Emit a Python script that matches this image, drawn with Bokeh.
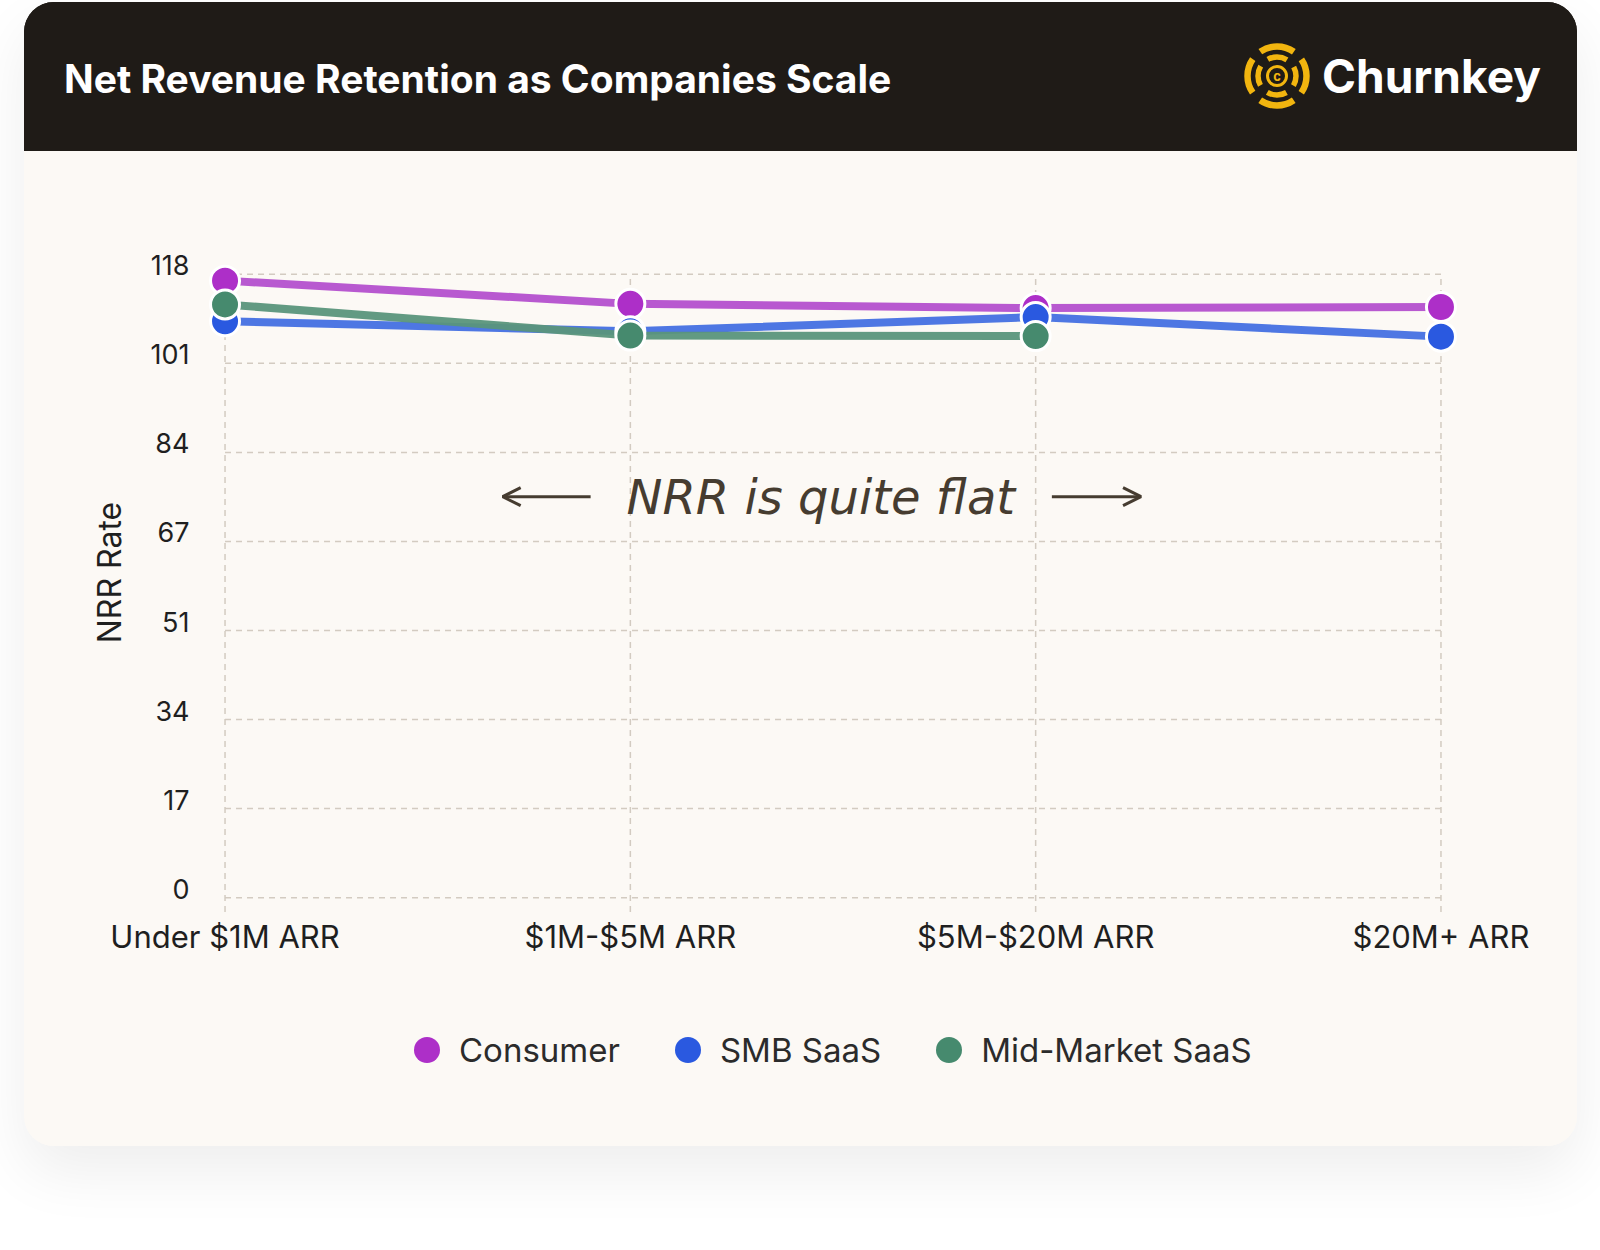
from bokeh.embed import file_html
from bokeh.layouts import column
from bokeh.models import (Arrow, Div, FixedTicker, Label, Legend, LegendItem, LinearAxis,
                          OpenHead, Range1d)
from bokeh.plotting import figure
from bokeh.resources import INLINE

# data
categories = ['Under $1M ARR', '$1M-$5M ARR', '$5M-$20M ARR', '$20M+ ARR']
series_names = ['Consumer', 'SMB SaaS', 'Mid-Market SaaS']
consumer = [116.8, 112.4, 111.6, 111.8]
smb_saas = [109.1, 107.2, 109.9, 106.2]
mid_market_saas = [112.3, 106.4, 106.3, float('nan')]
y_max = 118
y_tick_labels = ['0', '17', '34', '51', '67', '84', '101', '118']

marker_colors = ['#ad2fc8', '#2a59e0', '#468a6e']
line_colors = ['#b450ce', '#4470e2', '#5a957b']

CREAM = '#fcf9f5'
DARK = '#1f1b17'
GRID = '#d3cbc1'
INK = '#1f1f1f'
GOLD = '#f2b50f'
FONT = 'Inter'

CARD_W = 1553
HEAD_H = 149
CHART_H = 830
LEGEND_H = 165
LEFT, RIGHT = 175, 111


def header():
    # dark band with the title and the Churnkey logo
    logo = (
        '<svg style="position:absolute;left:1220px;top:41px" width="66" height="66" '
        'viewBox="-33 -33 66 66">'
        f'<circle r="29.5" fill="none" stroke="{GOLD}" stroke-width="6.5" '
        'stroke-dasharray="35.6 10.7" stroke-dashoffset="17.8"/>'
        f'<circle r="19" fill="none" stroke="{GOLD}" stroke-width="5.5" '
        'stroke-dasharray="20 9.8" stroke-dashoffset="10"/>'
        f'<circle r="9.5" fill="none" stroke="{GOLD}" stroke-width="3"/>'
        f'<text x="0" y="4.5" text-anchor="middle" font-family="Inter" font-weight="700" '
        f'font-size="13" fill="{GOLD}">c</text>'
        '</svg>'
    )
    html = (
        f'<div style="position:relative;width:{CARD_W}px;height:{HEAD_H}px;background:{DARK};'
        f'font-family:{FONT};color:white;font-weight:700;line-height:1;">'
        '<span style="position:absolute;left:40px;top:57px;font-size:39px;white-space:nowrap;">'
        'Net Revenue Retention as Companies Scale</span>'
        f'{logo}'
        '<span style="position:absolute;left:1298px;top:51px;font-size:46px;white-space:nowrap;">'
        'Churnkey</span>'
        '</div>'
    )
    return Div(text=html, width=CARD_W, height=HEAD_H, margin=0,
               styles={'background-color': DARK})


def chart():
    p = figure(
        width=CARD_W, height=CHART_H,
        x_range=Range1d(-0.063, 3.063), y_range=Range1d(-3, 126.1),
        y_axis_location=None,
        output_backend='svg', toolbar_location=None,
        min_border_left=LEFT, min_border_right=RIGHT, min_border_top=80, min_border_bottom=68,
        background_fill_color=CREAM, border_fill_color=CREAM, outline_line_color=None,
    )
    p.grid.visible = False

    xs = list(range(len(categories)))
    y_ticks = [y_max * i / (len(y_tick_labels) - 1) for i in range(len(y_tick_labels))]

    # dashed grid that stops at the first / last category
    p.segment(x0=xs, y0=-2.7, x1=xs, y1=y_max, line_color=GRID, line_width=1.5, line_dash='6 5')
    p.segment(x0=xs[0], y0=y_ticks, x1=xs[-1], y1=y_ticks, line_color=GRID, line_width=1.5, line_dash='6 5')

    # tick labels sit a little above their grid line in the reference
    p.extra_y_ranges = {'labels': Range1d(-3 - 1.7, 126.1 - 1.7)}
    yax = LinearAxis(y_range_name='labels')
    p.add_layout(yax, 'left')

    p.xaxis.ticker = FixedTicker(ticks=xs)
    p.xaxis.major_label_overrides = {i: c for i, c in zip(xs, categories)}
    yax.ticker = FixedTicker(ticks=y_ticks)
    yax.major_label_overrides = {t: lab for t, lab in zip(y_ticks, y_tick_labels)}

    for ax in (p.xaxis[0], yax):
        ax.axis_line_color = None
        ax.major_tick_line_color = None
        ax.minor_tick_line_color = None
        ax.major_tick_out = 0
        ax.major_tick_in = 0
        ax.major_label_text_font = FONT
        ax.major_label_text_color = INK
    p.xaxis.major_label_text_font_size = '31px'
    p.xaxis.major_label_standoff = 4
    yax.major_label_text_font_size = '27px'
    yax.major_label_standoff = 10
    yax.axis_label = 'NRR Rate'
    yax.axis_label_text_font = FONT
    yax.axis_label_text_font_style = 'normal'
    yax.axis_label_text_font_size = '32px'
    yax.axis_label_text_color = INK
    yax.axis_label_standoff = 19

    series = [consumer, smb_saas, mid_market_saas]
    for ys, lc in zip(series, line_colors):
        p.line(xs, ys, line_color=lc, line_width=8, line_alpha=0.95)

    for ys, mc in zip(series, marker_colors):
        p.scatter(xs, ys, size=29, fill_color=mc, line_color='white', line_width=3)

    p.add_layout(Label(
        x=1.47, y=75.9, text='NRR is quite flat', text_align='center', text_baseline='middle',
        text_font='DejaVu Sans', text_font_style='italic', text_font_size='48px', text_color='#463c30',
    ))
    for x0, x1 in [(0.902, 0.685), (2.040, 2.260)]:
        p.add_layout(Arrow(
            x_start=x0, y_start=75.9, x_end=x1, y_end=75.9,
            line_color='#463c30', line_width=3,
            end=OpenHead(size=18, line_color='#463c30', line_width=3),
        ))
    return p


def legend_strip():
    # the legend lives in its own strip under the chart; its keys carry no data
    f = figure(
        width=CARD_W, height=LEGEND_H,
        x_range=Range1d(0, 1), y_range=Range1d(0, 1),
        x_axis_location=None, y_axis_location=None,
        output_backend='svg', toolbar_location=None,
        min_border_left=LEFT, min_border_right=RIGHT, min_border_top=0, min_border_bottom=0,
        background_fill_color=CREAM, border_fill_color=CREAM, outline_line_color=None,
    )
    f.grid.visible = False
    nan = float('nan')
    keys = [f.scatter(x=[nan], y=[nan], fill_color=mc, line_color=None) for mc in marker_colors]
    legend = Legend(
        items=[LegendItem(label=n, renderers=[r]) for n, r in zip(series_names, keys)],
        location=(195, 64), orientation='horizontal',
        glyph_width=65, glyph_height=65, label_standoff=0, spacing=35,
        padding=0, margin=0, border_line_color=None, background_fill_alpha=0,
        label_text_font=FONT, label_text_font_size='33px', label_text_color='#2b2b2b',
    )
    f.add_layout(legend)
    return f


card = column(
    header(), chart(), legend_strip(), spacing=0, margin=(2, 0, 0, 24),
    styles={
        'border-radius': '30px',
        'overflow': 'hidden',
        'background-color': CREAM,
        'box-shadow': '0 26px 60px rgba(0, 0, 0, 0.07)',
    },
)

open('out.html', 'w').write(file_html(card, INLINE))
